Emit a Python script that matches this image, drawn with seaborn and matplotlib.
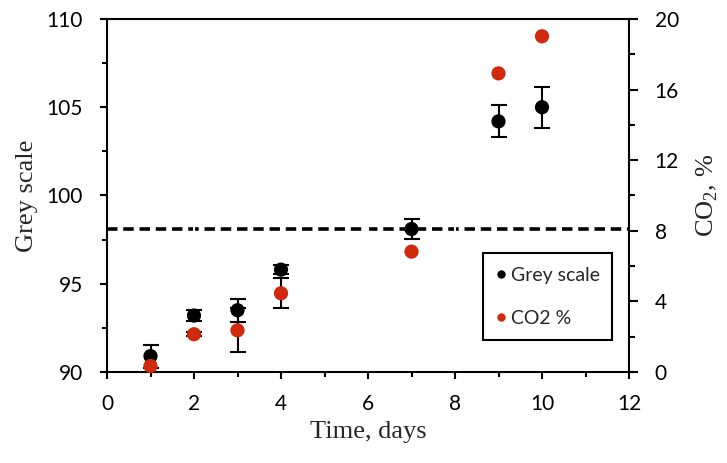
import matplotlib
matplotlib.use("Agg")
import matplotlib.pyplot as plt
import seaborn as sns
from matplotlib.ticker import MultipleLocator
from matplotlib.lines import Line2D

# Measurements over storage time
days = [1, 2, 3, 4, 7, 9, 10]
grey_scale = [90.9, 93.2, 93.5, 95.8, 98.1, 104.2, 105.0]
grey_err = [0.65, 0.3, 0.65, 0.25, 0.55, 0.9, 1.15]
co2 = [0.34, 2.14, 2.36, 4.46, 6.82, 16.92, 19.02]
co2_err = [0.0, 0.1, 1.25, 0.86, 0.0, 0.0, 0.0]

# Threshold level drawn as a dashed reference line
threshold_days = [0, 2, 4, 6, 8, 10, 12]
threshold_level = [98.1] * len(threshold_days)

x_ticks = [0, 2, 4, 6, 8, 10, 12]
grey_ticks = [90, 95, 100, 105, 110]
co2_ticks = [0, 4, 8, 12, 16, 20]

RED = "#cf2a0e"
TICK_FONT = "Lato"
LABEL_FONT = "Liberation Serif"

sns.set_style("ticks")
plt.rcParams["font.family"] = [TICK_FONT, "DejaVu Sans"]
plt.rcParams["mathtext.fontset"] = "custom"
plt.rcParams["mathtext.rm"] = LABEL_FONT

fig = plt.figure(figsize=(7.27, 4.63), dpi=100)
ax = fig.add_axes([107 / 727, 1 - 372 / 463, 522 / 727, 353 / 463])

# dashed threshold line with small markers at even days
sns.lineplot(x=threshold_days, y=threshold_level, ax=ax, color="black",
             linewidth=2.6, linestyle=(0, (2.9, 1.6)), marker="|",
             markersize=6, markeredgewidth=1.5, zorder=2)

ax.errorbar(days, grey_scale, yerr=grey_err, fmt="none", ecolor="black",
            elinewidth=1.5, capsize=5.8, capthick=1.5, zorder=3)
sns.scatterplot(x=days, y=grey_scale, ax=ax, color="black", s=105,
                edgecolor="none", zorder=4, clip_on=False)

ax.set_xlim(0, 12)
ax.set_ylim(90, 110)
ax.set_xticks(x_ticks)
ax.set_yticks(grey_ticks)
ax.xaxis.set_minor_locator(MultipleLocator(1))
ax.yaxis.set_minor_locator(MultipleLocator(2.5))

ax2 = ax.twinx()
# error bars only where a spread was measured
err_idx = [i for i, e in enumerate(co2_err) if e > 0]
ax2.errorbar([days[i] for i in err_idx], [co2[i] for i in err_idx],
             yerr=[co2_err[i] for i in err_idx], fmt="none", ecolor="black",
             elinewidth=1.5, capsize=5.8, capthick=1.5, zorder=3)
sns.scatterplot(x=days, y=co2, ax=ax2, color=RED, s=105,
                edgecolor="none", zorder=4, clip_on=False)
ax2.set_ylim(0, 20)
ax2.set_yticks(co2_ticks)
ax2.yaxis.set_minor_locator(MultipleLocator(2))

for a in (ax, ax2):
    for sp in a.spines.values():
        sp.set_linewidth(1.5)
        sp.set_color("black")
ax2.spines["left"].set_visible(False)
ax2.spines["bottom"].set_visible(False)
ax2.spines["top"].set_visible(False)
ax.spines["right"].set_visible(False)

ax.tick_params(axis="both", which="both", direction="out", width=1.5,
               colors="black", labelsize=15, top=False, right=False)
ax.tick_params(axis="y", which="major", length=5.2, pad=12)
ax.tick_params(axis="y", which="minor", length=3.4)
ax.tick_params(axis="x", which="major", length=5.0, pad=11)
ax.tick_params(axis="x", which="minor", length=3.4)
ax2.tick_params(axis="y", which="both", direction="out", width=1.5,
                colors="black", labelsize=15)
ax2.tick_params(axis="y", which="major", length=6.5, pad=12)
ax2.tick_params(axis="y", which="minor", length=4.0)

ax.set_xlabel("Time, days", fontfamily=LABEL_FONT, fontsize=19, labelpad=5)
ax.set_ylabel("Grey scale", fontfamily=LABEL_FONT, fontsize=19, labelpad=6)
ax2.set_ylabel("CO$_\\mathregular{2}$, %", fontfamily=LABEL_FONT, fontsize=19,
               labelpad=11)

handles = [
    Line2D([], [], linestyle="none", marker="o", color="black",
           markersize=6, markeredgewidth=0),
    Line2D([], [], linestyle="none", marker="o", color=RED,
           markersize=6, markeredgewidth=0),
]
leg = ax2.legend(handles, ["Grey scale", "CO2 %"],
                 bbox_to_anchor=((483 - 107) / 522, (372 - 342) / 353,
                                 129 / 522, 89 / 353),
                 loc="upper left", mode="expand", borderaxespad=0,
                 fontsize=14, frameon=True, fancybox=False,
                 handlelength=0.5, handletextpad=0.25, borderpad=0.7,
                 labelspacing=1.35)
frame = leg.get_frame()
frame.set_edgecolor("black")
frame.set_linewidth(1.5)
frame.set_facecolor("white")
frame.set_alpha(1)

fig.savefig("out.png", dpi=100)
